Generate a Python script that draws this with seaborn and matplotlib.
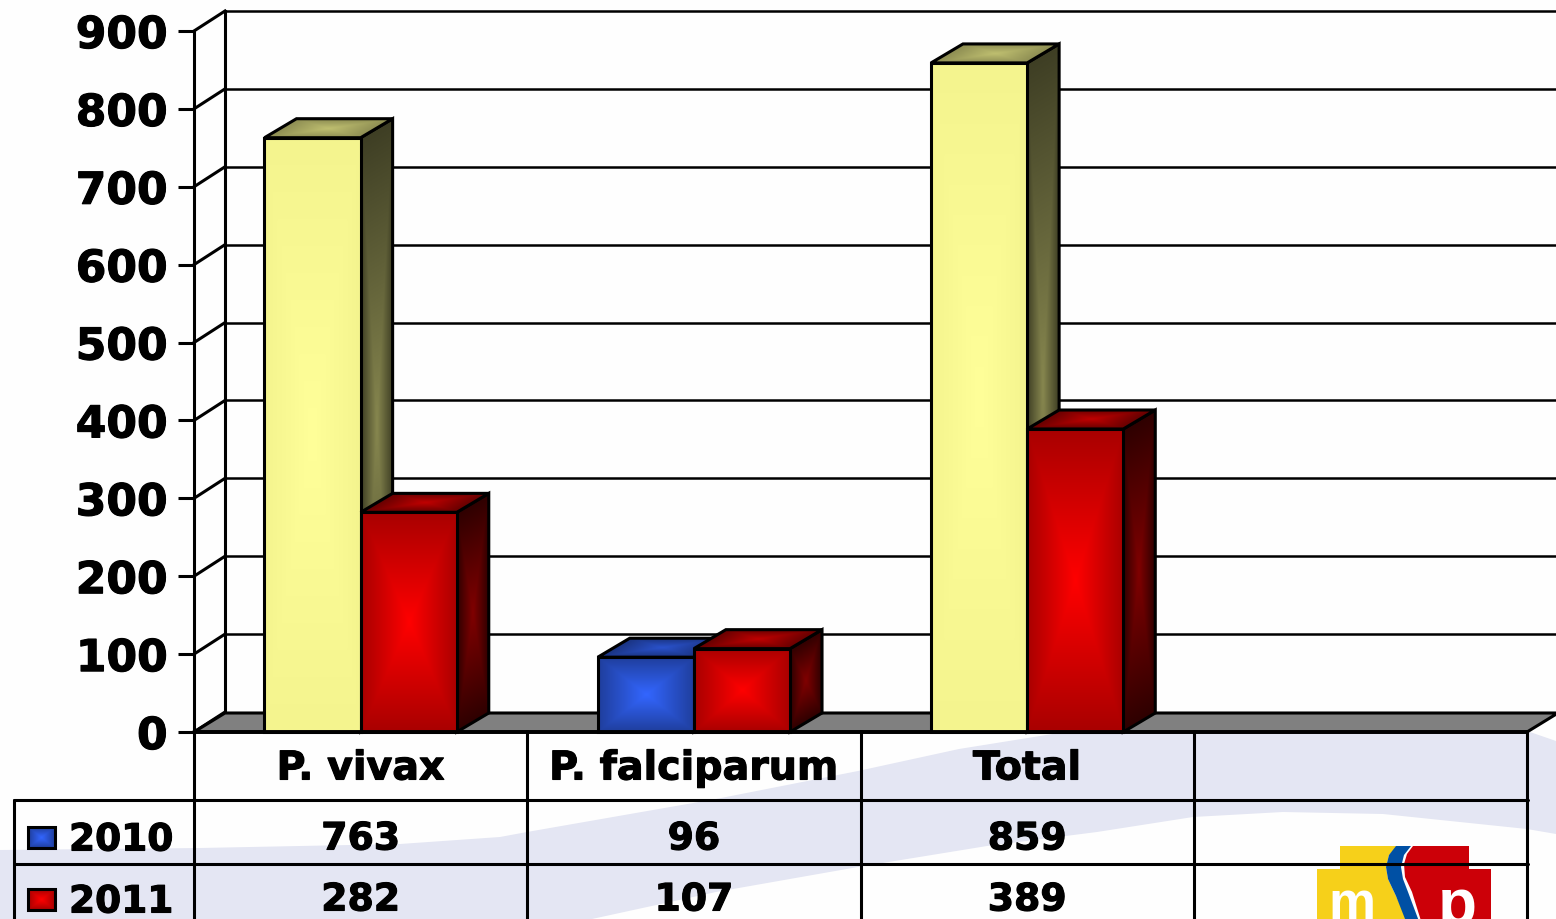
import numpy as np
import pandas as pd
import seaborn as sns
import matplotlib.pyplot as plt
import matplotlib.patheffects as pe
from matplotlib.colors import to_rgb
from matplotlib.patches import Polygon, Rectangle
from matplotlib.transforms import blended_transform_factory

categories = ['P. vivax', 'P. falciparum', 'Total']
years = ['2010', '2011']
values_2010 = [763, 96, 859]
values_2011 = [282, 107, 389]
y_ticks = [0, 100, 200, 300, 400, 500, 600, 700, 800, 900]

yellow = {'front': ('#FFFF99', '#F4F48E'), 'side': ('#87874F', '#3E3E24'), 'top': ('#BFBF70', '#8C8C52')}
blue = {'front': ('#3366FF', '#1F3E9C'), 'side': ('#1A3380', '#0C1A40'), 'top': ('#2A52CC', '#1A3380')}
red = {'front': ('#FF0000', '#A80000'), 'side': ('#800000', '#2E0000'), 'top': ('#C00000', '#640000')}
colors_2010 = [yellow, blue, yellow]
colors_2011 = [red, red, red]

W, H = 1556, 920
LW = 2.2
heavy = [pe.withStroke(linewidth=0.8, foreground='black')]

df = pd.DataFrame({
    'species': categories * 2,
    'year': [years[0]] * 3 + [years[1]] * 3,
    'cases': values_2010 + values_2011,
})

sns.set_theme(style='white')
plt.rcParams['font.family'] = ['DejaVu Sans']
fig = plt.figure(figsize=(W / 100, H / 100), dpi=100, facecolor='#FEFEFE')

# background in pixel coordinates
bg = fig.add_axes([0, 0, 1, 1], zorder=0)
bg.set_xlim(0, W)
bg.set_ylim(H, 0)
bg.axis('off')
band = [(0, 851), (200, 849), (400, 845), (500, 838), (527, 833), (716, 800), (858, 772), (959, 750),
        (1065, 733), (1200, 720), (1350, 715), (1450, 720), (1530, 733), (1556, 742),
        (1556, 835), (1527, 830), (1383, 815), (1283, 813), (1193, 818), (1097, 833), (987, 847),
        (858, 868), (716, 893), (592, 920), (0, 920)]
bg.add_patch(Polygon(band, closed=True, fc='#E4E6F3', ec='none'))

# logo
bg.add_patch(Polygon([(1340, 847), (1398, 847), (1389, 856), (1386, 868), (1388, 880), (1396, 897), (1409, 925),
                      (1317, 925), (1317, 870), (1340, 870)],
                     closed=True, fc='#F6D01A', ec='none'))
bg.add_patch(Polygon([(1413, 847), (1469, 847), (1469, 870), (1491, 870), (1491, 925), (1422, 925), (1412, 893),
                      (1405, 878), (1404, 865), (1407, 855)],
                     closed=True, fc='#CC0008', ec='none'))
bg.add_patch(Polygon([(1396, 847), (1389, 856), (1386, 868), (1388, 880), (1396, 897), (1407, 925), (1420, 925),
                      (1408, 893), (1403, 880), (1401, 868), (1404, 856), (1411, 847)],
                     closed=True, fc='#0050A4', ec='none'))
bg.text(1352, 919, 'm', color='white', fontsize=38, fontweight='bold', family='Liberation Sans',
        ha='center', va='baseline', clip_on=True)
bg.text(1457, 924, 'p', color='white', fontsize=46, fontweight='bold', family='Liberation Sans',
        ha='center', va='baseline', clip_on=True)

# main chart axes: front plane of the 3D box
ax = fig.add_axes([194 / W, 1 - 733 / H, 1333 / W, 701 / H], zorder=1)
ax.patch.set_alpha(0)
sns.barplot(data=df, x='species', y='cases', hue='year', order=categories, hue_order=years,
            width=0.577, gap=0, saturation=1, legend=False, ax=ax)
ax.set_xlim(-0.5, 3.5)
ax.set_ylim(0, 900)
ax.set_autoscale_on(False)
ax.set_xlabel('')
ax.set_ylabel('')
sns.despine(ax=ax, left=True, bottom=True, top=True, right=True)

px_x = 4 / 1333
px_y = 900 / 701
wall_dx, wall_dy = 31 * px_x, 20 * px_y
bar_dx, bar_dy = 32 * px_x, 19 * px_y

ax.set_yticks(y_ticks)
ax.tick_params(axis='y', left=True, length=11.5, width=LW, color='black', pad=7.5, labelsize=31.7)
for t in ax.get_yticklabels():
    t.set_fontweight('bold')
    t.set_color('black')
    t.set_verticalalignment('center_baseline')
    t.set_path_effects(heavy)
ax.set_xticks([])


def line(xs, ys, z=1.0, lw=LW):
    ax.plot(xs, ys, color='black', lw=lw, clip_on=False, zorder=z, solid_capstyle='projecting')


# walls and floor
ax.add_patch(Polygon([(-0.5, 0), (3.5, 0), (3.5 + wall_dx, 19 * px_y), (-0.5 + wall_dx, 19 * px_y)], closed=True,
                     fc='#808080', ec='black', lw=LW, clip_on=False, zorder=1.5))
for v in y_ticks:
    line([-0.5, -0.5 + wall_dx], [v, v + wall_dy])
    if v > 0:
        line([-0.5 + wall_dx, 3.5 + wall_dx * 1.2], [v + wall_dy, v + wall_dy], lw=1.8)
line([-0.5, -0.5], [0, 900])
line([-0.5 + wall_dx, -0.5 + wall_dx], [19 * px_y, 900 + wall_dy])


def face(o, a, b, centre, edge, z):
    # parallelogram o, o+a, o+a+b, o+b filled with a rectangular path gradient
    pts = np.array([o, o + a, o + a + b, o + b])
    x0, x1, y0, y1 = pts[:, 0].min(), pts[:, 0].max(), pts[:, 1].min(), pts[:, 1].max()
    gx, gy = np.meshgrid(np.linspace(x0, x1, 160), np.linspace(y0, y1, 300))
    inv = np.linalg.inv(np.array([a, b]).T)
    s = inv[0, 0] * (gx - o[0]) + inv[0, 1] * (gy - o[1])
    t = inv[1, 0] * (gx - o[0]) + inv[1, 1] * (gy - o[1])
    d = np.clip(np.maximum(np.abs(2 * s - 1), np.abs(2 * t - 1)), 0, 1)[..., None]
    img = np.array(to_rgb(centre)) * (1 - d) + np.array(to_rgb(edge)) * d
    im = ax.imshow(img, extent=(x0, x1, y0, y1), origin='lower', aspect='auto', zorder=z, interpolation='bilinear')
    clip = Polygon(pts, closed=True, transform=ax.transData)
    im.set_clip_path(clip)
    ax.add_patch(Polygon(pts, closed=True, fc='none', ec='black', lw=LW, clip_on=False, zorder=z + 0.01,
                         joinstyle='miter'))


z = 2.0
for i in range(len(categories)):
    for cont, cols in zip(ax.containers, (colors_2010, colors_2011)):
        bar = cont.patches[i]
        bar.set_visible(False)
        x, w, h = bar.get_x(), bar.get_width(), bar.get_height()
        c = cols[i]
        d = np.array([bar_dx, bar_dy])
        face(np.array([x + w, 0.0]), d, np.array([0.0, h]), *c['side'], z)
        face(np.array([x, h]), np.array([w, 0.0]), d, *c['top'], z + 0.1)
        face(np.array([x, 0.0]), np.array([w, 0.0]), np.array([0.0, h]), *c['front'], z + 0.2)
        z += 1
ax.set_xlim(-0.5, 3.5)
ax.set_ylim(0, 900)

# data table underneath, x from the chart scale and y in pixels
top = fig.add_axes([0, 0, 1, 1], zorder=2)
top.set_xlim(0, W)
top.set_ylim(H, 0)
top.axis('off')
tr = blended_transform_factory(ax.transData, top.transData)
for i in range(5):
    top.plot([i - 0.5, i - 0.5], [732, 925], color='black', lw=LW, transform=tr, clip_on=True)
top.plot([14, 14], [801, 925], color='black', lw=LW)
for yy in (801, 865):
    top.plot([14, 1528], [yy, yy], color='black', lw=LW)
top.plot([194, 1527], [733, 733], color='black', lw=LW + 0.6)
top.set_xlim(0, W)
top.set_ylim(H, 0)

for i, name in enumerate(categories):
    top.text(i, 765, name, transform=tr, ha='center', va='center_baseline', fontsize=28.5, fontweight='bold',
             color='black', path_effects=heavy)
    top.text(i, 836.5, str(values_2010[i]), transform=tr, ha='center', va='center_baseline', fontsize=27.2,
             fontweight='bold', color='black', path_effects=heavy)
    top.text(i, 897.5, str(values_2011[i]), transform=tr, ha='center', va='center_baseline', fontsize=27.2,
             fontweight='bold', color='black', path_effects=heavy)

for yy, year, c in ((838, years[0], blue), (900, years[1], red)):
    top.text(69, yy - 0.5, year, ha='left', va='center_baseline', fontsize=27, fontweight='bold', color='black',
             path_effects=heavy)
    gx, gy = np.meshgrid(np.linspace(-1, 1, 40), np.linspace(-1, 1, 40))
    d = np.maximum(np.abs(gx), np.abs(gy))[..., None]
    img = np.array(to_rgb(c['front'][0])) * (1 - d) + np.array(to_rgb(c['front'][1])) * d
    top.imshow(img, extent=(28, 55, yy + 11, yy - 10), aspect='auto', zorder=3)
    top.add_patch(Rectangle((28, yy - 10), 27, 21, fc='none', ec='black', lw=LW, zorder=4))
top.set_xlim(0, W)
top.set_ylim(H, 0)

fig.savefig('out.png', dpi=100, facecolor=fig.get_facecolor())
